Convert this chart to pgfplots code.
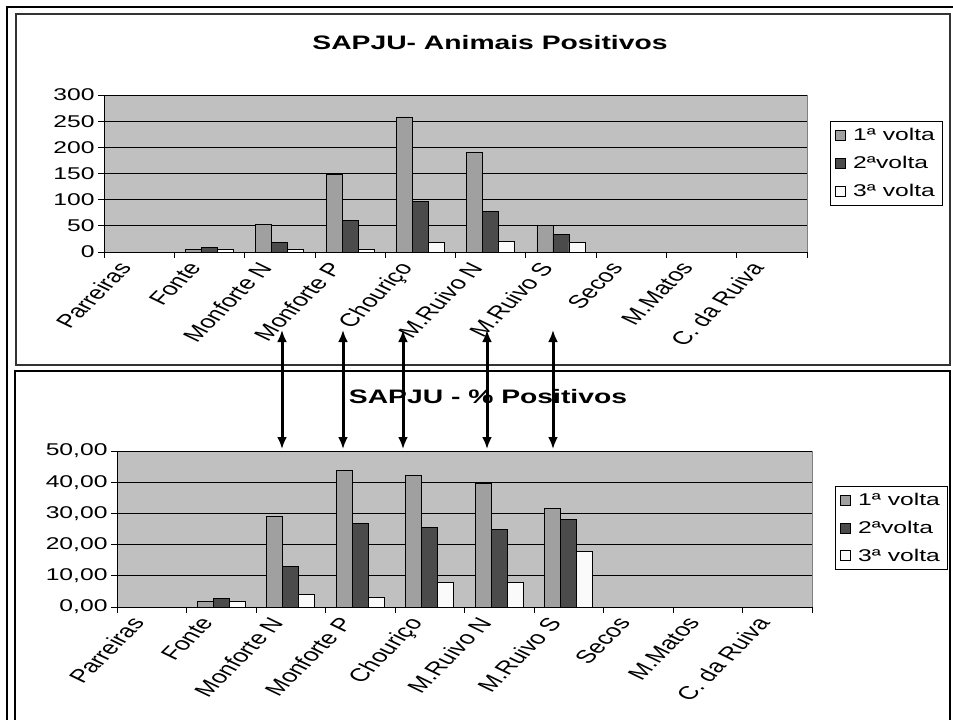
\documentclass[border=0pt]{standalone}
\usepackage{pgfplots}
\pgfplotsset{compat=1.18}
\usepackage{fontspec}
\setmainfont{Liberation Sans}[FakeStretch=1.45]
\newfontfamily\rotfont{Liberation Sans}
\usetikzlibrary{arrows.meta}

\definecolor{plotbg}{HTML}{C0C0C0}
\definecolor{volta1}{HTML}{A0A0A0}
\definecolor{volta2}{HTML}{4B4B4B}
\definecolor{volta3}{HTML}{FAFAFA}
\definecolor{framegray}{HTML}{808080}

\newcommand\tickfont{\fontsize{17}{20}\selectfont}
\newcommand\catfont{\fontsize{18.5}{22}\selectfont}
\newcommand\titlefont{\fontsize{19.5}{23}\selectfont\bfseries}

\pgfplotsset{
  sapju/.style={
    scale only axis,
    ybar=0pt, bar width=16pt,
    axis lines*=left,
    axis line style={-, black, line width=0.8pt},
    axis background/.style={fill=plotbg, draw=framegray, line width=0.8pt},
    ymajorgrids, grid style={black, line width=0.8pt},
    xmin=-0.5, xmax=9.5, ymin=0,
    xtick={-0.5,0.5,...,9.5},
    xticklabels={Parreiras,Fonte,Monforte N,Monforte P,Chouriço,M.Ruivo N,M.Ruivo S,Secos,M.Matos,C. da Ruiva,},
    tick align=outside, major tick length=6pt,
    tick style={black, line width=0.8pt},
    xticklabel style={font=\rotfont\catfont, anchor=north east, xshift=12pt, yshift=-1pt, xscale=1.45, rotate=55, inner sep=1pt},
    yticklabel style={font=\tickfont, /pgf/number format/assume math mode=true},
    legend cell align=left,
    legend style={draw=black, line width=0.8pt, font=\tickfont, row sep=10pt, column sep=5pt, inner sep=5pt, anchor=north west},
  },
  sq/.style={legend image code/.code={\draw[##1, line width=0.8pt] (0pt,-5pt) rectangle (10pt,5pt);}},
}

\begin{document}
\begin{tikzpicture}
\path[use as bounding box] (0pt,0pt) rectangle (953pt,-720pt);
% frames
\draw[line width=2.5pt] (7pt,-7pt) rectangle (960pt,-730pt);
\draw[line width=1.5pt, black!80] (16pt,-14pt) rectangle (950pt,-365pt);
\draw[line width=1.5pt] (15pt,-371pt) rectangle (950pt,-730pt);

% top chart
\begin{axis}[sapju, at={(104pt,-252pt)}, anchor=south west,
  width=703pt, height=157pt, ymax=300, ytick={0,50,...,300},
  legend style={at={(1.0327,0.834)}}]
\addplot[fill=volta1, draw=black, line width=0.8pt, sq] coordinates {(1,5) (2,53) (3,149) (4,258) (5,191) (6,50)};
\addplot[fill=volta2, draw=black, line width=0.8pt, sq] coordinates {(1,8) (2,18) (3,60) (4,97) (5,78) (6,34)};
\addplot[fill=volta3, draw=black, line width=0.8pt, sq] coordinates {(1,5) (2,5) (3,5) (4,19) (5,21) (6,19)};
\legend{1ª volta, 2ªvolta, 3ª volta}
\end{axis}
\node[font=\titlefont] at (490pt,-43pt) {SAPJU- Animais Positivos};

% bottom chart
\begin{axis}[sapju, at={(117pt,-607pt)}, anchor=south west,
  width=695pt, height=156pt, ymax=50, ytick={0,10,...,50},
  yticklabel style={/pgf/number format/.cd, fixed, fixed zerofill, precision=2, use comma},
  legend style={at={(1.0331,0.776)}}]
\addplot[fill=volta1, draw=black, line width=0.8pt, sq] coordinates {(1,1.7) (2,29.0) (3,43.8) (4,42.1) (5,39.5) (6,31.7)};
\addplot[fill=volta2, draw=black, line width=0.8pt, sq] coordinates {(1,2.6) (2,13.0) (3,26.9) (4,25.6) (5,24.8) (6,28.2)};
\addplot[fill=volta3, draw=black, line width=0.8pt, sq] coordinates {(1,1.7) (2,3.9) (3,3.1) (4,7.8) (5,7.8) (6,17.8)};
\legend{1ª volta, 2ªvolta, 3ª volta}
\end{axis}
\node[font=\titlefont] at (488pt,-397pt) {SAPJU - \% Positivos};

% arrows linking the two charts
\foreach \ax in {282,343,403,487,553}
  \draw[line width=3pt, {Latex[length=12pt,width=10pt]}-{Latex[length=12pt,width=10pt]}] (\ax pt,-330pt) -- (\ax pt,-449pt);
\end{tikzpicture}
\end{document}
